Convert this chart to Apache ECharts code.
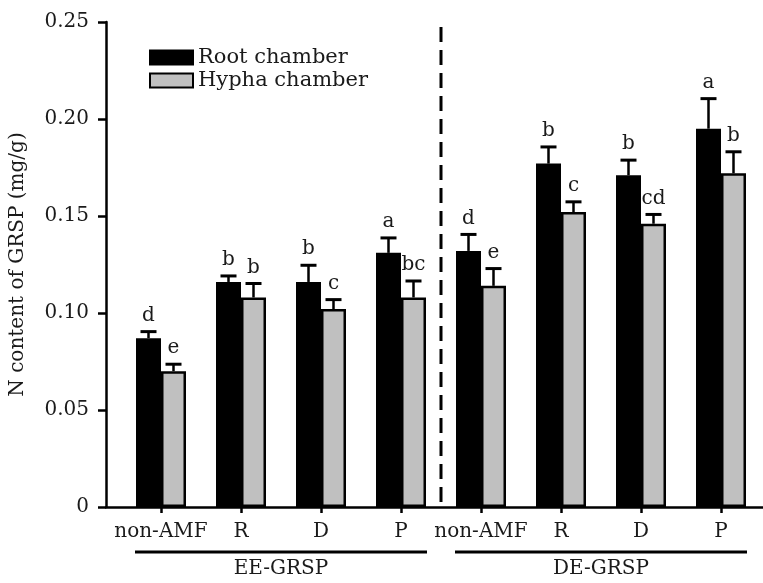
<!DOCTYPE html>
<html><head><meta charset="utf-8">
<script src="https://cdn.jsdelivr.net/npm/echarts@6/dist/echarts.min.js"></script>
<style>html,body{margin:0;padding:0;background:#fff}#c{width:763px;height:583px}</style>
</head><body><div id="c"></div>
<script>
const categories = ['non-AMF','R','D','P','non-AMF','R','D','P'];
const groups = ['EE-GRSP','DE-GRSP'];
const groupStart = [0, 4];
const groupEnd = [3, 7];
const rootMean = [0.087, 0.116, 0.116, 0.131, 0.132, 0.177, 0.171, 0.195];
const rootErr  = [0.0034, 0.0031, 0.0086, 0.0077, 0.0085, 0.0086, 0.0078, 0.0155];
const hyphaMean = [0.070, 0.108, 0.102, 0.108, 0.114, 0.152, 0.146, 0.172];
const hyphaErr  = [0.0036, 0.0072, 0.0049, 0.0085, 0.0089, 0.0053, 0.0048, 0.0111];
const rootLetters  = ['d','b','b','a','d','b','b','a'];
const hyphaLetters = ['e','b','c','bc','e','c','cd','b'];
const yTicks = [0, 0.05, 0.10, 0.15, 0.20, 0.25];

const FONT = '"DejaVu Serif", serif';
const FS = 20;
const TXT = '#1a1a1a';
const BW = 25;

const chart = echarts.init(document.getElementById('c'));

function errRender(side, letters) {
  return function (params, api) {
    const i = api.value(0);
    const v = api.value(1);
    const e = api.value(2);
    const base = api.coord([i, v]);
    const top = api.coord([i, v + e]);
    const x = base[0] + side * BW / 2;
    return {
      type: 'group',
      children: [
        {type: 'line', shape: {x1: x, y1: base[1], x2: x, y2: top[1]}, style: {stroke: '#000', lineWidth: 2.5}},
        {type: 'line', shape: {x1: x - 8, y1: top[1], x2: x + 8, y2: top[1]}, style: {stroke: '#000', lineWidth: 3}},
        {type: 'text', style: {text: letters[params.dataIndex], x: x, y: top[1] - 6, align: 'center', verticalAlign: 'bottom', font: FS + 'px ' + FONT, fill: TXT}}
      ]
    };
  };
}

const option = {
  animation: false,
  backgroundColor: '#fff',
  legend: {
    orient: 'vertical', left: 144, top: 42,
    itemWidth: 43, itemHeight: 14, itemGap: 2,
    icon: 'rect',
    textStyle: {fontFamily: FONT, fontSize: 21, color: TXT},
    data: ['Root chamber', 'Hypha chamber']
  },
  grid: [
    {left: 105, right: 0, top: 22, bottom: 76},
    {left: 121, right: 2, top: 22, bottom: 76}
  ],
  xAxis: [
    {gridIndex: 0, type: 'value', min: 0, max: 1,
     axisLine: {show: true, lineStyle: {color: '#000', width: 2.5}},
     axisTick: {show: false}, axisLabel: {show: false}, splitLine: {show: false}},
    {gridIndex: 1, type: 'category', data: categories,
     axisLine: {show: false},
     axisTick: {show: true, alignWithLabel: true, length: 6, lineStyle: {color: '#000', width: 2.5}},
     axisLabel: {margin: 15, fontFamily: FONT, fontSize: FS, color: TXT, interval: 0},
     splitLine: {show: false}}
  ],
  yAxis: [
    {gridIndex: 0, type: 'value', min: 0, max: 0.25, interval: 0.05,
     name: 'N content of GRSP (mg/g)', nameLocation: 'middle', nameGap: 78,
     nameTextStyle: {fontFamily: FONT, fontSize: FS, color: TXT},
     axisLine: {show: true, lineStyle: {color: '#000', width: 2.5}},
     axisTick: {show: true, length: 8, lineStyle: {color: '#000', width: 2.5}},
     axisLabel: {margin: 17, fontFamily: FONT, fontSize: FS, color: TXT,
       formatter: function (v) { return v === 0 ? '0' : v.toFixed(2); }},
     splitLine: {show: false}},
    {gridIndex: 1, type: 'value', min: 0, max: 0.25, show: false, splitLine: {show: false}}
  ],
  series: [
    {name: 'Root chamber', type: 'bar', xAxisIndex: 1, yAxisIndex: 1, barWidth: BW, barGap: '0%',
     data: rootMean, itemStyle: {color: '#000', borderColor: '#000', borderWidth: 2}, z: 2},
    {name: 'Hypha chamber', type: 'bar', xAxisIndex: 1, yAxisIndex: 1, barWidth: BW, barGap: '0%',
     data: hyphaMean, itemStyle: {color: '#c0c0c0', borderColor: '#000', borderWidth: 2.5}, z: 2},
    {type: 'custom', xAxisIndex: 1, yAxisIndex: 1, z: 3, silent: true,
     data: rootMean.map((v, i) => [i, v, rootErr[i]]),
     renderItem: errRender(-1, rootLetters)},
    {type: 'custom', xAxisIndex: 1, yAxisIndex: 1, z: 3, silent: true,
     data: hyphaMean.map((v, i) => [i, v, hyphaErr[i]]),
     renderItem: errRender(1, hyphaLetters)},
    {type: 'custom', xAxisIndex: 1, yAxisIndex: 1, z: 1, silent: true, clip: false,
     data: [[groupEnd[0], 0, groupStart[1]]],
     renderItem: function (params, api) {
       const a = api.coord([api.value(0), 0]);
       const b = api.coord([api.value(2), 0.25]);
       const x = (a[0] + b[0]) / 2;
       return {type: 'line', shape: {x1: x, y1: b[1] + 5, x2: x, y2: a[1]},
         style: {stroke: '#000', lineWidth: 3, lineDash: [15, 8]}};
     }},
    {type: 'custom', xAxisIndex: 1, yAxisIndex: 1, z: 3, silent: true, clip: false,
     data: groups.map((g, k) => [groupStart[k], 0, groupEnd[k]]),
     renderItem: function (params, api) {
       const a = api.coord([api.value(0), 0]);
       const b = api.coord([api.value(2), 0]);
       const y = a[1] + 45;
       const x1 = a[0] - BW - 1, x2 = b[0] + BW + 1;
       return {type: 'group', children: [
         {type: 'line', shape: {x1: x1, y1: y, x2: x2, y2: y}, style: {stroke: '#000', lineWidth: 3}},
         {type: 'text', style: {text: groups[params.dataIndex], x: (x1 + x2) / 2, y: y + 17, align: 'center', verticalAlign: 'middle', font: FS + 'px ' + FONT, fill: TXT}}
       ]};
     }}
  ]
};
chart.setOption(option);
</script>
</body></html>
